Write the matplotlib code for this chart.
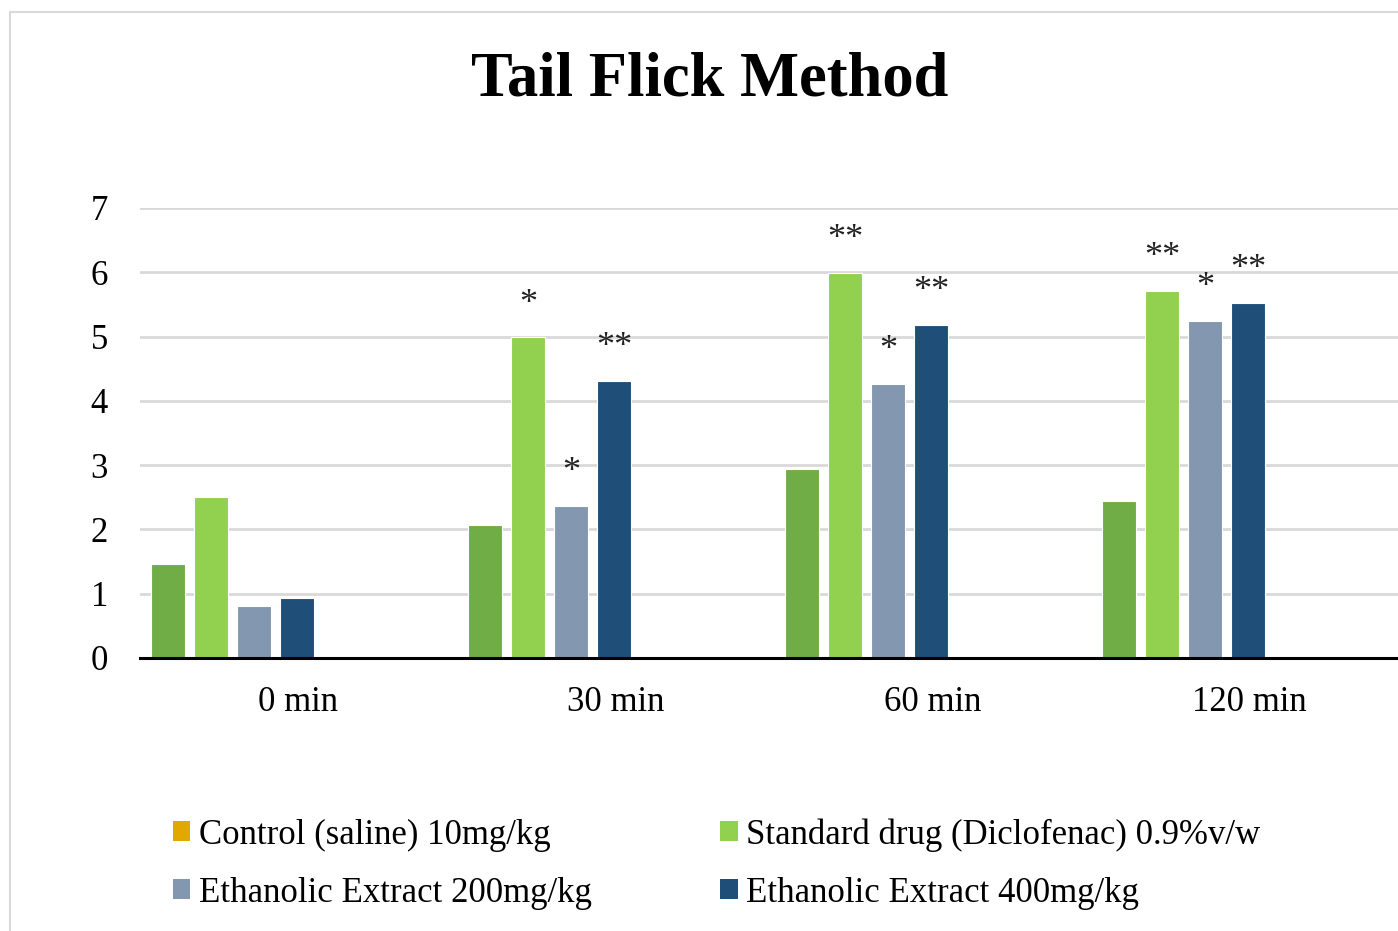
import numpy as np
import matplotlib
matplotlib.use("Agg")
import matplotlib.pyplot as plt
from matplotlib.patches import Patch, Rectangle

plt.rcParams['font.family'] = ['Liberation Serif', 'DejaVu Serif']

# data
groups = ['0 min', '30 min', '60 min', '120 min']
series = ['Control (saline) 10mg/kg',
          'Standard drug (Diclofenac) 0.9%v/w',
          'Ethanolic Extract 200mg/kg',
          'Ethanolic Extract 400mg/kg']
control = [1.47, 2.07, 2.94, 2.44]
standard = [2.51, 4.99, 5.99, 5.71]
ee200 = [0.81, 2.37, 4.27, 5.24]
ee400 = [0.94, 4.31, 5.18, 5.52]
stars_control = ['', '', '', '']
stars_standard = ['', '*', '**', '**']
stars_ee200 = ['', '*', '*', '*']
stars_ee400 = ['', '**', '**', '**']

bar_colors = ['#70AD47', '#92D050', '#8497B0', '#1F4E79']
legend_colors = ['#E2A800', '#92D050', '#8497B0', '#1F4E79']

values = [control, standard, ee200, ee400]
stars = [stars_control, stars_standard, stars_ee200, stars_ee400]

fig = plt.figure(figsize=(13.98, 9.31), dpi=100)
ax = fig.add_axes([140 / 1398, 1 - 658 / 931, 1268 / 1398, 450 / 931])

x = np.arange(len(groups))
step = 0.1356
width = 0.107
for i, (vals, col, st) in enumerate(zip(values, bar_colors, stars)):
    pos = x + (i - 3) * step - 0.005
    ax.bar(pos, vals, width=width, color=col, edgecolor='white', linewidth=0.8, zorder=3)
    for px, v, s in zip(pos, vals, st):
        if s:
            ax.annotate(s, (px, v), xytext=(0, 12), textcoords='offset points',
                        ha='center', va='bottom', fontsize=26, color='#222222')

ax.set_xlim(-0.5, 3.5)
ax.set_ylim(0, 7)
ax.set_yticks(range(8))
ax.set_xticks(x)
ax.set_xticklabels(groups)
ax.tick_params(axis='both', length=0, labelsize=25)
ax.tick_params(axis='y', pad=23)
ax.tick_params(axis='x', pad=20)
ax.yaxis.grid(True, color='#D9D9D9', linewidth=2, zorder=0)
ax.set_axisbelow(True)
for sp in ['top', 'right', 'left']:
    ax.spines[sp].set_visible(False)
ax.spines['bottom'].set_linewidth(2.2)
ax.spines['bottom'].set_zorder(4)

fig.text(710 / 1398, 1 - 81 / 931, 'Tail Flick Method', ha='center', va='center',
         fontsize=45, fontweight='bold')

# legend, column-major order so rows read like the original
order = [0, 2, 1, 3]
handles = [Patch(facecolor=legend_colors[k], label=series[k]) for k in order]
fig.legend(handles=handles, loc='upper left', bbox_to_anchor=(173 / 1398, 1 - 818 / 931),
           ncol=2, frameon=False, fontsize=25, handlelength=0.5, handleheight=0.5,
           handletextpad=0.25, columnspacing=3.7, labelspacing=0.72, borderpad=0,
           borderaxespad=0)

# outer chart border
fig.add_artist(Rectangle((10 / 1398, -0.1), 1.2, 1.1 - 12 / 931, transform=fig.transFigure,
                         fill=False, edgecolor='#D9D9D9', linewidth=1.5))

fig.savefig('out.png', dpi=100)
